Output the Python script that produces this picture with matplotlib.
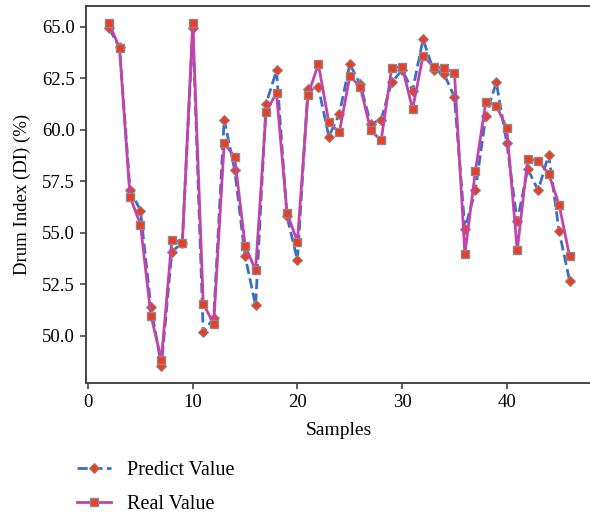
import numpy as np
import matplotlib
matplotlib.use("Agg")
import matplotlib.pyplot as plt

plt.rcParams['font.family'] = ['Liberation Serif', 'DejaVu Serif']

# sample numbers
samples = np.arange(2, 47)

# predicted drum index
predict = [64.92, 64.0, 57.09, 56.07, 51.37, 48.54, 54.08, 54.5, 64.94, 50.15,
           50.86, 60.49, 58.06, 53.85, 51.46, 61.26, 62.88, 55.79, 53.66, 61.97,
           62.07, 59.67, 60.76, 63.19, 62.22, 60.28, 60.49, 62.3, 62.9, 61.9,
           64.40, 62.88, 62.72, 61.59, 55.18, 57.05, 60.68, 62.30, 59.35, 55.55,
           58.09, 57.05, 58.79, 55.06, 52.67]

# real drum index
real = [65.18, 63.97, 56.75, 55.39, 50.97, 48.83, 54.66, 54.5, 65.18, 51.55,
        50.57, 59.35, 58.67, 54.37, 53.17, 60.87, 61.78, 55.96, 54.56, 61.67,
        63.19, 60.36, 59.87, 62.59, 62.10, 59.97, 59.48, 62.99, 63.07, 61.0,
        63.59, 63.07, 62.99, 62.78, 53.96, 57.98, 61.37, 61.17, 60.08, 54.14,
        58.58, 58.50, 57.86, 56.36, 53.85]

fig = plt.figure(figsize=(5.9, 5.17), dpi=100)
ax = fig.add_axes([0.1458, 0.2598, 0.8586, 0.7286])

ax.plot(samples, predict, linestyle='--', color='#3b6fc6', linewidth=2,
        marker='D', markersize=5, markerfacecolor='#ee3b24',
        markeredgecolor='#8a8a8a', markeredgewidth=0.8, label='Predict Value')
ax.plot(samples, real, linestyle='-', color='#c244a8', linewidth=2,
        marker='s', markersize=6, markerfacecolor='#ee3b24',
        markeredgecolor='#8a8a8a', markeredgewidth=1.0, label='Real Value')

ax.set_yticks([50.0, 52.5, 55.0, 57.5, 60.0, 62.5, 65.0])
ax.set_xticks([0, 10, 20, 30, 40])
ax.tick_params(labelsize=13.5, length=4, width=1.2, color='#444444', pad=4)
ax.set_xlabel('Samples', fontsize=14, labelpad=8)
ax.set_ylabel('Drum Index (DI) (%)', fontsize=13.5, labelpad=8)
for s in ax.spines.values():
    s.set_color('#444444')
    s.set_linewidth(1.4)

fig.legend(loc='lower left', bbox_to_anchor=(0.1, -0.03), frameon=False,
           fontsize=14.5, handlelength=1.7, labelspacing=0.75)

fig.savefig('out.png', dpi=100)
